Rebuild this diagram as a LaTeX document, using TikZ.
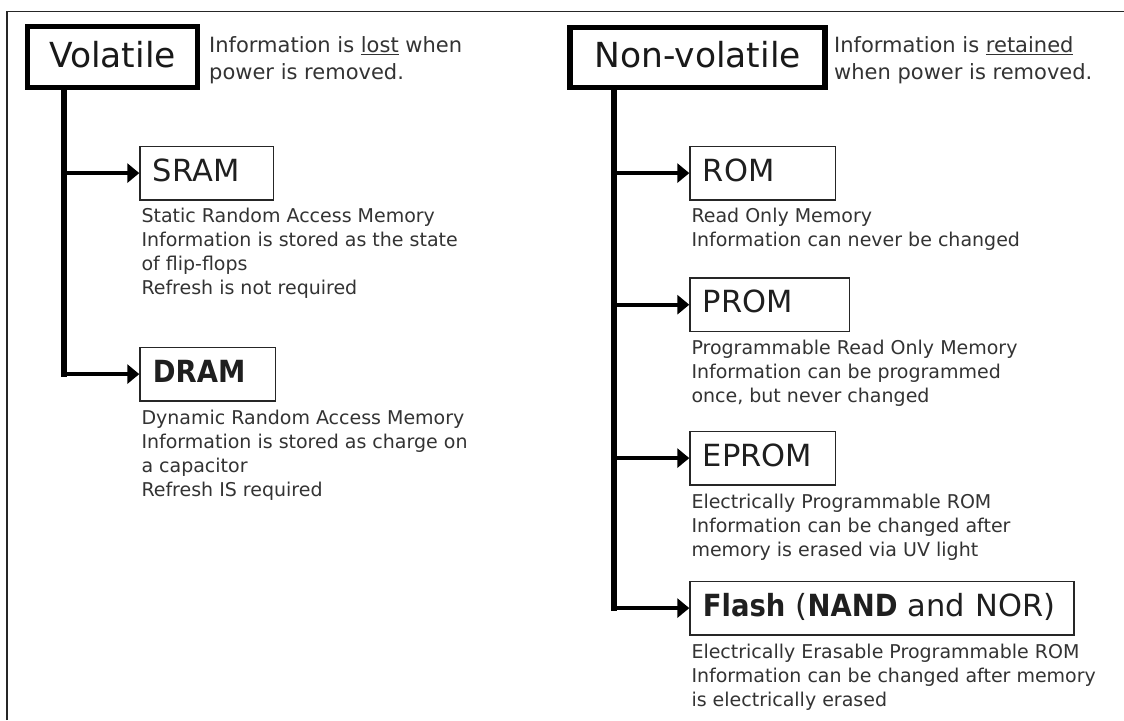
\documentclass[tikz,border=0pt]{standalone}
\usepackage{graphicx}
\usepackage{fontspec}
\setmainfont{DejaVu Sans}
\usetikzlibrary{arrows.meta,calc}

% underline with a fixed gap and weight
\newcommand\undl[1]{\setbox0\hbox{#1}\rlap{\rule[-2.9pt]{\wd0}{1.4pt}}\box0\relax}
% slightly condensed bold for the box labels
\newcommand\bfx[1]{\scalebox{0.9}[1]{\bfseries #1}}
\newcommand\fstrut[1]{\rule{0pt}{#1}}

\begin{document}
\begin{tikzpicture}[x=1pt,y=-1pt,
  frameline/.style={line width=1.6pt, black!85},
  headbox/.style={draw=black, line width=5.3pt, inner sep=0pt,
    font=\fontsize{34.5}{40}\selectfont, text height=27.3pt, text depth=7.2pt, text=black!90},
  membox/.style={draw=black!85, line width=1.3pt, anchor=north west,
    inner xsep=13pt, inner ysep=0pt, minimum height=53.5pt, align=left,
    font=\fontsize{30.5}{36}\selectfont, text height=23.5pt, text depth=7.1pt, text=black!88},
  spine/.style={line width=6pt, black, line cap=rect},
  branch/.style={line width=4pt, black, -{Triangle[length=12pt,width=19pt]}},
  note/.style={anchor=north west, inner sep=0pt, align=left,
    font=\fontsize{21}{26.5}\selectfont, text=black!80},
  desc/.style={anchor=north west, inner sep=0pt, align=left,
    font=\fontsize{19}{24}\selectfont, text=black!80}
]
\useasboundingbox (0,0) rectangle (1124,720);
\fill[white] (0,0) rectangle (1124,720);

% page frame (top and left edges)
\draw[frameline] (6.8,720) -- (6.8,11.5) -- (1124,11.5);

% ---------- volatile branch ----------
\node[headbox, minimum width=170pt, minimum height=61pt] (vol) at (112.5,57) {Volatile};
\node[note] (volnote) at (209,35.3) {\fstrut{17pt}Information is \undl{lost} when\\power is removed.};

\node[membox, text width=107.4pt] (sram) at (139.3,145.7) {SRAM};
\node[desc] (sramdesc) at ($(sram.south west)+(2,7)$)
  {\fstrut{15pt}Static Random Access Memory\\Information is stored as the state\\of flip-flops\\Refresh is not required};

\node[membox, text width=109.4pt] (dram) at (139.3,346.7) {\bfx{DRAM}};
\node[desc] (dramdesc) at ($(dram.south west)+(2,8)$)
  {\fstrut{15pt}Dynamic Random Access Memory\\Information is stored as charge on\\a capacitor\\Refresh IS required};

\coordinate (vsl) at (64,0);
\draw[spine] (vol.south -| vsl) -- (dram.west -| vsl);
\draw[branch] (sram.west -| vsl) -- (sram.west);
\draw[branch] (dram.west -| vsl) -- (dram.west);

% ---------- non-volatile branch ----------
\node[headbox, minimum width=255pt, minimum height=60pt] (nvol) at (697.5,57.3) {Non-volatile};
\node[note] (nvolnote) at (834,35.3) {\fstrut{17pt}Information is \undl{retained}\\when power is removed.};

\node[membox, text width=119.4pt] (rom) at (689.3,145.7) {ROM};
\node[desc] (romdesc) at ($(rom.south west)+(2,7)$)
  {\fstrut{15pt}Read Only Memory\\Information can never be changed};

\node[membox, text width=133.4pt] (prom) at (689.3,277.3) {PROM};
\node[desc] (promdesc) at ($(prom.south west)+(2,7)$)
  {\fstrut{15pt}Programmable Read Only Memory\\Information can be programmed\\once, but never changed};

\node[membox, text width=119.4pt] (eprom) at (689.3,430.7) {EPROM};
\node[desc] (epromdesc) at ($(eprom.south west)+(2,7.5)$)
  {\fstrut{15pt}Electrically Programmable ROM\\Information can be changed after\\memory is erased via UV light};

\node[membox, text width=358pt] (flash) at (689.3,580.7) {\bfx{Flash} (\bfx{NAND} and NOR)};
\node[desc] (flashdesc) at ($(flash.south west)+(2,7.5)$)
  {\fstrut{15pt}Electrically Erasable Programmable ROM\\Information can be changed after memory\\is electrically erased};

\coordinate (vsr) at (614,0);
\draw[spine] (nvol.south -| vsr) -- (flash.west -| vsr);
\draw[branch] (rom.west -| vsr) -- (rom.west);
\draw[branch] (prom.west -| vsr) -- (prom.west);
\draw[branch] (eprom.west -| vsr) -- (eprom.west);
\draw[branch] (flash.west -| vsr) -- (flash.west);
\end{tikzpicture}
\end{document}
